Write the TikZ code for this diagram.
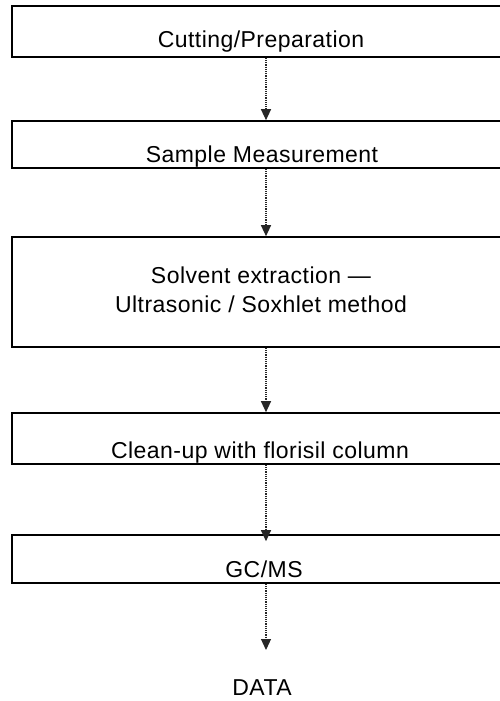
\documentclass[tikz,border=0pt]{standalone}
\usepackage{fontspec}
\setmainfont{Liberation Sans}[LetterSpace=2]
\usetikzlibrary{arrows.meta}
\tikzset{
  box/.style={draw=black, line width=1.6pt, minimum width=498pt, inner sep=0pt},
  txt/.style={anchor=base, font=\fontsize{23}{27}\selectfont, inner sep=0pt},
  conn/.style={draw=black!85, line width=1.2pt, densely dotted, -{Triangle[width=10pt,length=11pt]}}
}
\begin{document}
\begin{tikzpicture}[x=1pt,y=-1pt]
\useasboundingbox (0,0) rectangle (499,701);
\node[box, minimum height=51pt] (b1) at (261,31.5) {};
\node[box, minimum height=47pt] (b2) at (261,144.5) {};
\node[box, minimum height=110pt] (b3) at (261,292) {};
\node[box, minimum height=51pt] (b4) at (261,438.5) {};
\node[box, minimum height=48pt] (b5) at (261,559) {};
\node[txt] (t1) at (261,48) {Cutting/Preparation};
\node[txt] (t2) at (262,162) {Sample Measurement};
\node[txt] (t3a) at (261,283) {Solvent extraction ---};
\node[txt] (t3b) at (261,312) {Ultrasonic / Soxhlet method};
\node[txt] (t4) at (260,458) {Clean-up with florisil column};
\node[txt] (t5) at (264,577) {GC/MS};
\node[txt] (t6) at (262,695) {DATA};
\coordinate (d) at (266,650);
\draw[conn] ([xshift=5pt]b1.south) -- ([xshift=5pt]b2.north);
\draw[conn] ([xshift=5pt]b2.south) -- ([xshift=5pt]b3.north);
\draw[conn] ([xshift=5pt]b3.south) -- ([xshift=5pt]b4.north);
\draw[conn] ([xshift=5pt]b4.south) -- ([xshift=5pt,yshift=-7pt]b5.north);
\draw[conn] ([xshift=5pt]b5.south) -- (d);
\end{tikzpicture}
\end{document}
